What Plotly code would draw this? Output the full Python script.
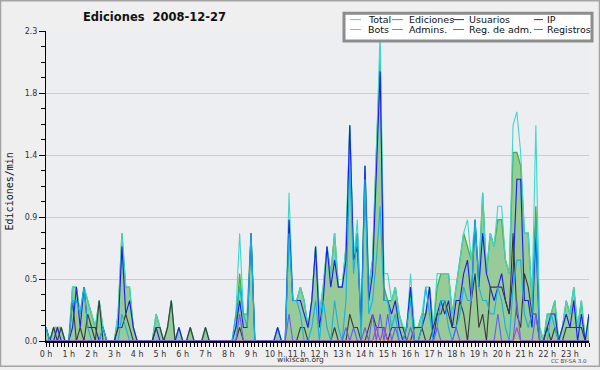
import plotly.graph_objects as go

# ---- data: edits per minute, one value per 10-minute slot (6 per hour) ----
hour_labels = [f"{h} h" for h in range(24)]
slots_per_hour = 6

total = [
    0.1, 0, 0.1, 0.1, 0.1, 0,
    0, 0.4, 0.4, 0.2, 0.4, 0.3,
    0.2, 0.1, 0.3, 0.1, 0, 0,
    0, 0.2, 0.8, 0.4, 0.4, 0.1,
    0, 0, 0, 0, 0, 0.2,
    0.1, 0, 0.1, 0.3, 0, 0.1,
    0, 0, 0.1, 0, 0, 0,
    0.1, 0, 0, 0, 0, 0,
    0, 0, 0.2, 0.8, 0.2, 0.2,
    0.8, 0, 0, 0, 0, 0,
    0, 0.1, 0, 0, 1.1, 0.3,
    0.3, 0.4, 0.3, 0.1, 0.3, 0.7,
    0.2, 0.4, 0.7, 0.5, 0.8, 0.4,
    0.4, 0.7, 1.6, 0.6, 0.9, 0.1,
    1.3, 0.4, 0.6, 1.4, 2.3, 0.5,
    0.5, 0.3, 0.4, 0.2, 0.1, 0.1,
    0.5, 0.1, 0.1, 0.2, 0.4, 0.4,
    0.1, 0.5, 0.5, 0.5, 0.5, 0.2,
    0.4, 0.6, 0.8, 0.9, 0.6, 0.9,
    0.5, 1.1, 0.5, 0.8, 0.7, 1.0,
    1.0, 0.6, 0.5, 1.6, 1.7, 1.4,
    0.8, 0.8, 0.3, 1.6, 0.1, 0,
    0.2, 0.2, 0.3, 0, 0.1, 0.3,
    0.2, 0.4, 0.1, 0.3, 0, 0.2,
]

ediciones = [
    0.1, 0, 0.1, 0.1, 0.1, 0,
    0, 0.4, 0.4, 0.2, 0.4, 0.3,
    0.2, 0.1, 0.3, 0.1, 0, 0,
    0, 0.2, 0.8, 0.4, 0.4, 0.1,
    0, 0, 0, 0, 0, 0.2,
    0.1, 0, 0.1, 0.3, 0, 0.1,
    0, 0, 0.1, 0, 0, 0,
    0.1, 0, 0, 0, 0, 0,
    0, 0, 0.1, 0.5, 0.2, 0.2,
    0.8, 0, 0, 0, 0, 0,
    0, 0.1, 0, 0, 0.9, 0.3,
    0.3, 0.4, 0.3, 0.1, 0.3, 0.7,
    0.2, 0.4, 0.7, 0.5, 0.8, 0.4,
    0.4, 0.7, 1.6, 0.6, 0.8, 0.1,
    1.3, 0.4, 0.6, 1.4, 2.1, 0.4,
    0.3, 0.3, 0.4, 0.2, 0.1, 0.1,
    0.4, 0.1, 0.1, 0.2, 0.2, 0.4,
    0.1, 0.4, 0.5, 0.5, 0.5, 0.2,
    0.4, 0.6, 0.8, 0.7, 0.6, 0.8,
    0.5, 1.1, 0.5, 0.8, 0.7, 0.9,
    0.9, 0.6, 0.5, 1.4, 1.4, 1.3,
    0.8, 0.8, 0.3, 1.0, 0.1, 0,
    0.2, 0.2, 0.3, 0, 0.1, 0.3,
    0.2, 0.4, 0.1, 0.3, 0, 0.2,
]

usuarios = [
    0.1, 0, 0, 0.1, 0, 0,
    0, 0.1, 0.4, 0.1, 0.4, 0.1,
    0.1, 0.1, 0, 0.1, 0, 0,
    0, 0.1, 0.7, 0.2, 0.3, 0.1,
    0, 0, 0, 0, 0, 0.1,
    0, 0, 0, 0, 0, 0.1,
    0, 0, 0, 0, 0, 0,
    0, 0, 0, 0, 0, 0,
    0, 0, 0.1, 0.3, 0.1, 0.1,
    0.8, 0, 0, 0, 0, 0,
    0, 0.1, 0, 0, 0.9, 0.3,
    0.3, 0.3, 0.2, 0.1, 0.3, 0.7,
    0.1, 0.3, 0.7, 0.4, 0.6, 0.4,
    0.4, 0.6, 1.6, 0.6, 0.7, 0.1,
    1.3, 0.3, 0.5, 1.2, 2.0, 0.3,
    0.3, 0.2, 0.3, 0.1, 0, 0.1,
    0.4, 0, 0, 0.1, 0.2, 0.4,
    0, 0.2, 0.3, 0.2, 0.3, 0.1,
    0.3, 0.3, 0.5, 0.6, 0.3, 0.9,
    0.4, 0.8, 0.5, 0.4, 0.3, 0.4,
    0.5, 0.3, 0.2, 0.5, 1.2, 1.2,
    0.3, 0.3, 0.1, 0.8, 0, 0,
    0.1, 0.2, 0.2, 0, 0.1, 0.2,
    0.1, 0.3, 0, 0.2, 0, 0.2,
]

ip = [
    0, 0, 0.1, 0, 0.1, 0,
    0, 0.3, 0, 0.1, 0, 0.2,
    0.1, 0, 0.3, 0, 0, 0,
    0, 0.1, 0.1, 0.2, 0.1, 0,
    0, 0, 0, 0, 0, 0.1,
    0.1, 0, 0.1, 0.3, 0, 0,
    0, 0, 0.1, 0, 0, 0,
    0.1, 0, 0, 0, 0, 0,
    0, 0, 0, 0.1, 0, 0,
    0, 0, 0, 0, 0, 0,
    0, 0, 0, 0, 0, 0,
    0, 0.1, 0.1, 0, 0, 0,
    0, 0, 0, 0, 0.1, 0,
    0, 0, 0.2, 0.1, 0.1, 0,
    0, 0.1, 0.2, 0.1, 0.1, 0.1,
    0, 0.1, 0.1, 0.1, 0.1, 0,
    0, 0.1, 0.1, 0.1, 0, 0,
    0.1, 0.2, 0.2, 0.3, 0.2, 0.1,
    0.1, 0.3, 0.2, 0, 0.3, 0.5,
    0.1, 0.2, 0, 0.4, 0.4, 0.4,
    0.4, 0.3, 0.2, 0.8, 0.2, 0.1,
    0.5, 0.4, 0.2, 0.2, 0, 0,
    0.1, 0, 0.1, 0, 0, 0.1,
    0.1, 0.1, 0.1, 0.1, 0, 0,
]

bots = [0] * 144

admins = [
    0.1, 0, 0, 0, 0, 0,
    0, 0.3, 0.3, 0.2, 0.4, 0.1,
    0, 0, 0, 0.1, 0, 0,
    0, 0, 0.2, 0.1, 0, 0,
    0, 0, 0, 0, 0, 0,
    0, 0, 0, 0, 0, 0,
    0, 0, 0, 0, 0, 0,
    0, 0, 0, 0, 0, 0,
    0, 0, 0.2, 0.4, 0.2, 0.1,
    0.8, 0, 0, 0, 0, 0,
    0, 0, 0, 0, 0.8, 0.3,
    0.3, 0.2, 0, 0, 0.1, 0.3,
    0, 0.3, 0.1, 0, 0.3, 0.1,
    0, 0.3, 1.3, 0.5, 0.8, 0,
    1.2, 0.2, 0.3, 0.6, 1.0, 0.3,
    0.3, 0.1, 0.2, 0, 0, 0.1,
    0.3, 0, 0, 0.1, 0.4, 0.2,
    0, 0.1, 0.3, 0.3, 0.1, 0,
    0.1, 0.2, 0.4, 0.3, 0.3, 0.9,
    0.4, 0.3, 0.3, 0.2, 0.2, 0.4,
    0.3, 0.1, 0, 0.4, 0.6, 0.6,
    0.2, 0.1, 0.2, 0.9, 0, 0,
    0, 0.2, 0.1, 0, 0, 0,
    0, 0, 0, 0, 0, 0,
]

reg_adm = [
    0, 0, 0, 0, 0, 0,
    0, 0, 0, 0, 0, 0,
    0, 0, 0, 0, 0, 0,
    0, 0, 0, 0, 0, 0,
    0, 0, 0, 0, 0, 0,
    0, 0, 0, 0, 0, 0,
    0, 0, 0, 0, 0, 0,
    0, 0, 0, 0, 0, 0,
    0, 0, 0, 0, 0, 0,
    0, 0, 0, 0, 0, 0,
    0, 0, 0, 0, 0, 0,
    0, 0, 0, 0, 0, 0,
    0, 0, 0, 0, 0, 0,
    0, 0, 0, 0, 0, 0,
    0, 0, 0, 0.1, 0, 0.1,
    0, 0, 0, 0, 0, 0,
    0, 0, 0, 0, 0, 0,
    0, 0, 0, 0, 0, 0,
    0, 0, 0, 0, 0, 0,
    0, 0, 0, 0, 0, 0,
    0, 0, 0, 0, 0.1, 0,
    0, 0, 0, 0, 0, 0,
    0, 0, 0, 0, 0, 0,
    0, 0, 0, 0, 0, 0,
]

registros = [
    0, 0, 0, 0, 0, 0,
    0, 0, 0, 0, 0, 0,
    0, 0, 0, 0, 0, 0,
    0, 0, 0, 0, 0, 0,
    0, 0, 0, 0, 0, 0,
    0, 0, 0, 0, 0, 0,
    0, 0, 0, 0, 0, 0,
    0, 0, 0, 0, 0, 0,
    0, 0, 0, 0.2, 0, 0,
    0, 0, 0, 0, 0, 0,
    0, 0, 0, 0, 0.2, 0,
    0, 0, 0, 0, 0, 0,
    0, 0, 0, 0, 0, 0,
    0, 0.1, 0, 0.1, 0, 0,
    0.1, 0, 0.2, 0, 0.2, 0,
    0.2, 0, 0.1, 0, 0, 0,
    0.1, 0, 0, 0, 0, 0,
    0, 0.1, 0, 0, 0, 0,
    0.1, 0, 0, 0, 0, 0,
    0, 0, 0, 0, 0, 0.2,
    0, 0, 0, 0, 0.3, 0,
    0, 0, 0, 0.2, 0, 0,
    0, 0, 0, 0, 0, 0,
    0, 0, 0, 0, 0, 0,
]

y_max = 2.3
y_tick_labels = ["0.0", "0.5", "0.9", "1.4", "1.8", "2.3"]

# ---- figure geometry ----
W, H = 600, 370
ML, MR, MT, MB = 46, 11, 31, 26
PW, PH = W - ML - MR, H - MT - MB

def px(xp):
    return (xp - ML) / PW

def py(yp):
    return (H - MB - yp) / PH

x_hours = [i / slots_per_hour for i in range(len(total))]

series = [
    ("Total", total, "#3fd6cc"),
    ("Ediciones", ediciones, "#3cb43c"),
    ("Usuarios", usuarios, "#1c1ced"),
    ("IP", ip, "#3a3a3a"),
    ("Bots", bots, "#ff9a2a"),
    ("Admins.", admins, "#12b4e0"),
    ("Reg. de adm.", reg_adm, "#cc33dd"),
    ("Registros", registros, "#6a5cf0"),
]

fig = go.Figure()
for name, vals, col in series:
    if name == "Ediciones":
        fig.add_trace(go.Scatter(x=x_hours, y=vals, name=name, mode="lines",
                                 line=dict(color=col, width=1.3),
                                 fill="tozeroy", fillcolor="#98cb98",
                                 showlegend=False, hoverinfo="skip"))
    else:
        fig.add_trace(go.Scatter(x=x_hours, y=vals, name=name, mode="lines",
                                 line=dict(color=col, width=1.1),
                                 showlegend=False, hoverinfo="skip"))

# draw the filled Ediciones area first, Total on top of it
fig.data = (fig.data[1], fig.data[0]) + fig.data[2:]

n_y = len(y_tick_labels) - 1
y_tickvals = [y_max * k / n_y for k in range(n_y + 1)]

font = "DejaVu Sans"
fig.update_layout(
    width=W, height=H,
    margin=dict(l=ML, r=MR, t=MT, b=MB, pad=0),
    paper_bgcolor="#efefef",
    plot_bgcolor="#eceef1",
    showlegend=False,
    xaxis=dict(
        range=[0, (len(total) - 1) / slots_per_hour],
        tickmode="array",
        tickvals=list(range(24)),
        ticktext=hour_labels,
        ticks="outside", ticklen=4, tickcolor="#000", tickwidth=1,
        minor=dict(dtick=1 / slots_per_hour, tick0=0, ticks="outside",
                   ticklen=4, tickcolor="#000", tickwidth=1, showgrid=False),
        showline=True, linecolor="#000", linewidth=2,
        showgrid=False, zeroline=False,
        tickfont=dict(family=font, size=8, color="#333"),
    ),
    yaxis=dict(
        range=[0, y_max],
        tickmode="array",
        tickvals=y_tickvals,
        ticktext=y_tick_labels,
        ticks="outside", ticklen=6, tickcolor="#000", tickwidth=1,
        minor=dict(dtick=y_max / (n_y * 4), tick0=0, ticks="outside",
                   ticklen=4, tickcolor="#000", tickwidth=1, showgrid=False),
        showline=True, linecolor="#000", linewidth=1,
        showgrid=True, gridcolor="#cdcdcd", gridwidth=1,
        zeroline=False,
        tickfont=dict(family=font, size=8, color="#333"),
    ),
)

annotations = [
    dict(text="<b>Ediciones  2008-12-27</b>", x=px(154), y=py(17),
         xref="paper", yref="paper", showarrow=False,
         font=dict(family=font, size=11.5, color="#111"),
         xanchor="center", yanchor="middle"),
    dict(text="Ediciones/min", x=px(9), y=py(193), textangle=-90,
         xref="paper", yref="paper", showarrow=False,
         font=dict(family="DejaVu Sans Mono", size=10, color="#111"),
         xanchor="center", yanchor="middle"),
    dict(text="wikiscan.org", x=px(300), y=py(368.5),
         xref="paper", yref="paper", showarrow=False,
         font=dict(family=font, size=7.5, color="#333"),
         xanchor="center", yanchor="bottom", borderpad=0),
    dict(text="CC BY-SA 3.0", x=px(569), y=py(364.5),
         xref="paper", yref="paper", showarrow=False,
         font=dict(family=font, size=5.5, color="#444"),
         xanchor="center", yanchor="middle"),
]

shapes = [
    # outer frame
    dict(type="rect", xref="paper", yref="paper",
         x0=px(0.5), x1=px(W - 0.5), y0=py(H - 0.5), y1=py(0.5),
         line=dict(color="#a4a4a4", width=1.5), fillcolor="rgba(0,0,0,0)",
         layer="above"),
    # legend box
    dict(type="rect", xref="paper", yref="paper",
         x0=px(344), x1=px(592), y0=py(41), y1=py(13),
         line=dict(color="#8c8c8c", width=3), fillcolor="#ffffff",
         layer="above"),
]

# manual legend: 4 columns x 2 rows
col_sample_x = [(350, 361), (392, 403), (453, 464), (534, 543)]
col_text_x = [366, 407, 467, 545]
row_y = [19.5, 29.5]
for k, (name, vals, col) in enumerate(series):
    r, c = divmod(k, 4)
    x0, x1 = col_sample_x[c]
    shapes.append(dict(type="line", xref="paper", yref="paper",
                       x0=px(x0), x1=px(x1), y0=py(row_y[r]), y1=py(row_y[r]),
                       line=dict(color=col, width=1), layer="above"))
    annotations.append(dict(text=name, x=px(col_text_x[c]), y=py(row_y[r]),
                            xref="paper", yref="paper", showarrow=False,
                            font=dict(family=font, size=9.5, color="#111"),
                            xanchor="left", yanchor="middle"))

fig.update_layout(annotations=annotations, shapes=shapes)
fig.write_html("out.html",
               config={"displayModeBar": False, "staticPlot": True},
               post_script="document.body.style.margin='0px';"
                           "document.body.style.overflow='hidden';")
